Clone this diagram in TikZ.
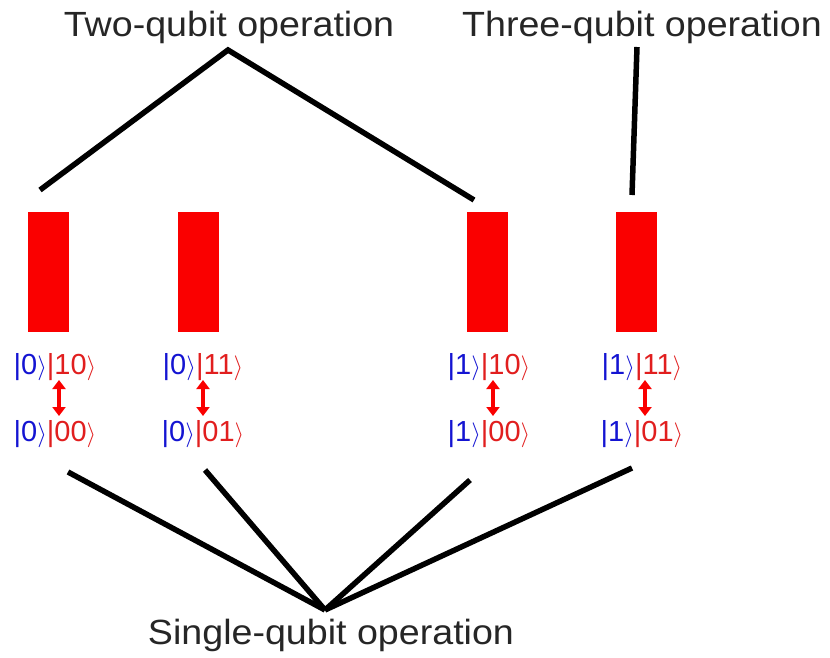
\documentclass[tikz,border=0pt]{standalone}
\usepackage{fontspec}
\setmainfont{Liberation Sans}
\newfontfamily\headfont[FakeStretch=1.075]{Liberation Sans}
\usetikzlibrary{arrows.meta}
\definecolor{gatered}{RGB}{250,0,0}
\definecolor{ketred}{RGB}{225,30,30}
\definecolor{ketblue}{RGB}{20,20,210}
\tikzset{
  label text/.style={font=\headfont\fontsize{35}{40}\selectfont, text=black!85, inner sep=0pt, anchor=base},
  gate/.style={fill=gatered, draw=none, minimum width=41pt, minimum height=120pt, inner sep=0pt},
  ket/.style={font=\fontsize{29}{32}\selectfont, inner sep=0pt, anchor=base},
  link/.style={line width=5.5pt, black},
  flip/.style={gatered, line width=3.5pt, {Triangle[length=9pt,width=13pt]}-{Triangle[length=9pt,width=13pt]}},
}
\newcommand{\kt}[2]{\textcolor{ketblue}{|#1$\rangle$}\textcolor{ketred}{|#2$\rangle$}}
\begin{document}
\begin{tikzpicture}[x=1pt, y=-1pt]
  \useasboundingbox (0,0) rectangle (830,658);
  % headings
  \node[label text] (two) at (229,37) {Two-qubit operation};
  \node[label text] (three) at (642,37) {Three-qubit operation};
  \node[label text] (single) at (331,644) {Single-qubit operation};
  % gates
  \node[gate] (g1) at (48.5,272) {};
  \node[gate] (g2) at (198.5,272) {};
  \node[gate] (g3) at (487.5,272) {};
  \node[gate] (g4) at (636.5,272) {};
  % state pairs
  \node[ket] (t1) at (55,374) {\kt{0}{10}};
  \node[ket] (t2) at (203,374) {\kt{0}{11}};
  \node[ket] (t3) at (489,374) {\kt{1}{10}};
  \node[ket] (t4) at (642,374) {\kt{1}{11}};
  \node[ket] (b1) at (55,441) {\kt{0}{00}};
  \node[ket] (b2) at (203,441) {\kt{0}{01}};
  \node[ket] (b3) at (489,441) {\kt{1}{00}};
  \node[ket] (b4) at (642,441) {\kt{1}{01}};
  % transitions
  \coordinate (a1t) at (59,380); \coordinate (a1b) at (59,416);
  \coordinate (a2t) at (203,380); \coordinate (a2b) at (203,416);
  \coordinate (a3t) at (493,380); \coordinate (a3b) at (493,416);
  \coordinate (a4t) at (645,380); \coordinate (a4b) at (645,416);
  \draw[flip] (a1t) -- (a1b);
  \draw[flip] (a2t) -- (a2b);
  \draw[flip] (a3t) -- (a3b);
  \draw[flip] (a4t) -- (a4b);
  % connectors
  \coordinate (apex2) at (228,50);
  \coordinate (p1) at (40,190);
  \coordinate (p3) at (474,200);
  \coordinate (apex3) at (637,47);
  \coordinate (p4) at (632,195);
  \draw[link] (p1) -- (apex2) -- (p3);
  \draw[link] (apex3) -- (p4);
  \coordinate (hub) at (325,610);
  \coordinate (q1) at (68,472);
  \coordinate (q2) at (205,470);
  \coordinate (q3) at (470,480);
  \coordinate (q4) at (632,468);
  \draw[link] (q1) -- (hub);
  \draw[link] (q2) -- (hub);
  \draw[link] (q3) -- (hub);
  \draw[link] (q4) -- (hub);
\end{tikzpicture}
\end{document}
